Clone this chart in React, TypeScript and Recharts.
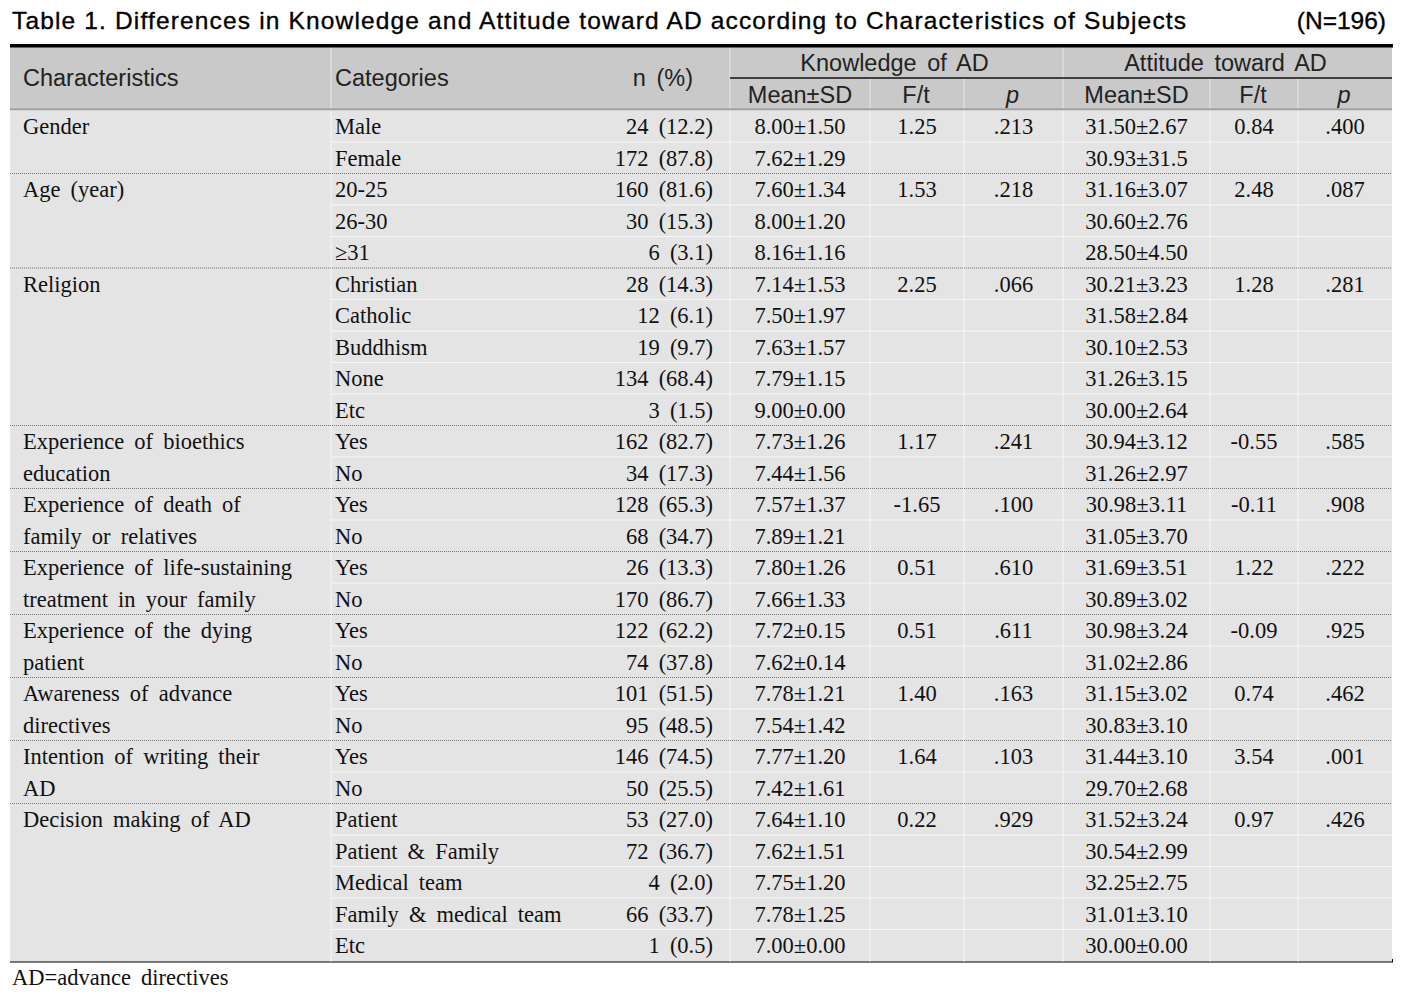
import React from "react";
import { BarChart, Bar, XAxis, YAxis, Customized } from "recharts";

// ---------- data ----------
const groupLabels: string[][] = [
  ["Gender"],
  ["Age (year)"],
  ["Religion"],
  ["Experience of bioethics", "education"],
  ["Experience of death of", "family or relatives"],
  ["Experience of life-sustaining", "treatment in your family"],
  ["Experience of the dying", "patient"],
  ["Awareness of advance", "directives"],
  ["Intention of writing their", "AD"],
  ["Decision making of AD"],
];
const groupSizes = [2, 3, 5, 2, 2, 2, 2, 2, 2, 5];
const categories = [
  "Male", "Female",
  "20-25", "26-30", "≥31",
  "Christian", "Catholic", "Buddhism", "None", "Etc",
  "Yes", "No", "Yes", "No", "Yes", "No", "Yes", "No", "Yes", "No", "Yes", "No",
  "Patient", "Patient & Family", "Medical team", "Family & medical team", "Etc",
];
const counts = [24, 172, 160, 30, 6, 28, 12, 19, 134, 3, 162, 34, 128, 68, 26, 170, 122, 74, 101, 95, 146, 50, 53, 72, 4, 66, 1];
const percents = ["12.2", "87.8", "81.6", "15.3", "3.1", "14.3", "6.1", "9.7", "68.4", "1.5", "82.7", "17.3", "65.3", "34.7", "13.3", "86.7", "62.2", "37.8", "51.5", "48.5", "74.5", "25.5", "27.0", "36.7", "2.0", "33.7", "0.5"];
const knowledgeMeanSD = ["8.00±1.50", "7.62±1.29", "7.60±1.34", "8.00±1.20", "8.16±1.16", "7.14±1.53", "7.50±1.97", "7.63±1.57", "7.79±1.15", "9.00±0.00", "7.73±1.26", "7.44±1.56", "7.57±1.37", "7.89±1.21", "7.80±1.26", "7.66±1.33", "7.72±0.15", "7.62±0.14", "7.78±1.21", "7.54±1.42", "7.77±1.20", "7.42±1.61", "7.64±1.10", "7.62±1.51", "7.75±1.20", "7.78±1.25", "7.00±0.00"];
const knowledgeF = ["1.25", "1.53", "2.25", "1.17", "-1.65", "0.51", "0.51", "1.40", "1.64", "0.22"];
const knowledgeP = [".213", ".218", ".066", ".241", ".100", ".610", ".611", ".163", ".103", ".929"];
const attitudeMeanSD = ["31.50±2.67", "30.93±31.5", "31.16±3.07", "30.60±2.76", "28.50±4.50", "30.21±3.23", "31.58±2.84", "30.10±2.53", "31.26±3.15", "30.00±2.64", "30.94±3.12", "31.26±2.97", "30.98±3.11", "31.05±3.70", "31.69±3.51", "30.89±3.02", "30.98±3.24", "31.02±2.86", "31.15±3.02", "30.83±3.10", "31.44±3.10", "29.70±2.68", "31.52±3.24", "30.54±2.99", "32.25±2.75", "31.01±3.10", "30.00±0.00"];
const attitudeF = ["0.84", "2.48", "1.28", "-0.55", "-0.11", "1.22", "-0.09", "0.74", "3.54", "0.97"];
const attitudeP = [".400", ".087", ".281", ".585", ".908", ".222", ".925", ".462", ".001", ".426"];

const titleText = "Table 1. Differences in Knowledge and Attitude toward AD according to Characteristics of Subjects";
const sampleText = "(N=196)";
const footnote = "AD=advance directives";

// ---------- build rows ----------
type Row = {
  key: string;
  full: number;
  label: string;
  category: string;
  n: string;
  kMean: string;
  kF: string;
  kP: string;
  aMean: string;
  aF: string;
  aP: string;
  groupStart: boolean;
};
const rows: Row[] = [];
{
  let idx = 0;
  groupSizes.forEach((size, g) => {
    for (let j = 0; j < size; j++) {
      rows.push({
        key: "r" + idx,
        full: 1,
        label: groupLabels[g][j] || "",
        category: categories[idx],
        n: `${counts[idx]} (${percents[idx]})`,
        kMean: knowledgeMeanSD[idx],
        kF: j === 0 ? knowledgeF[g] : "",
        kP: j === 0 ? knowledgeP[g] : "",
        aMean: attitudeMeanSD[idx],
        aF: j === 0 ? attitudeF[g] : "",
        aP: j === 0 ? attitudeP[g] : "",
        groupStart: j === 0,
      });
      idx++;
    }
  });
}

// ---------- layout ----------
const W = 1412;
const H = 997;
const EDGES = [10, 331, 730, 870, 964, 1063, 1210, 1298, 1392];
const SERIF = "'Liberation Serif', 'Times New Roman', serif";
const SANS = "'Liberation Sans', Arial, sans-serif";
const BODY_BG = "#e4e4e4";
const HEAD_BG = "#c9c9c9";
const mid = (a: number, b: number) => (a + b) / 2;

const RowShape = (props: any) => {
  const { x, y, width, height, payload, index } = props;
  const r: Row = payload;
  const cy = y + height / 2;
  const right = x + width;
  const t = {
    fontFamily: SERIF,
    fontSize: 22.5,
    fill: "#111",
    dominantBaseline: "central" as const,
    wordSpacing: 4.5,
  };
  return (
    <g>
      <rect x={x} y={y} width={width} height={height} fill={BODY_BG} />
      {EDGES.slice(1, -1).map((ex) => (
        <line key={ex} x1={ex} x2={ex} y1={y} y2={y + height} stroke="#f6f6f6" strokeWidth={1} />
      ))}
      {!r.groupStart && (
        <line x1={EDGES[1]} x2={right} y1={y} y2={y} stroke="#f6f6f6" strokeWidth={1} />
      )}
      {r.groupStart && index > 0 && (
        <line x1={x} x2={right} y1={y} y2={y} stroke="#777" strokeWidth={1} strokeDasharray="1 1" />
      )}
      <text {...t} x={23} y={cy}>{r.label}</text>
      <text {...t} x={335} y={cy}>{r.category}</text>
      <text {...t} x={713} y={cy} textAnchor="end">{r.n}</text>
      <text {...t} x={mid(EDGES[2], EDGES[3])} y={cy} textAnchor="middle">{r.kMean}</text>
      <text {...t} x={mid(EDGES[3], EDGES[4])} y={cy} textAnchor="middle">{r.kF}</text>
      <text {...t} x={mid(EDGES[4], EDGES[5])} y={cy} textAnchor="middle">{r.kP}</text>
      <text {...t} x={mid(EDGES[5], EDGES[6])} y={cy} textAnchor="middle">{r.aMean}</text>
      <text {...t} x={mid(EDGES[6], EDGES[7])} y={cy} textAnchor="middle">{r.aF}</text>
      <text {...t} x={mid(EDGES[7], EDGES[8])} y={cy} textAnchor="middle">{r.aP}</text>
    </g>
  );
};

const Frame = () => {
  const h = {
    fontFamily: SANS,
    fontSize: 23.5,
    fill: "#222",
    dominantBaseline: "central" as const,
    wordSpacing: 4,
  };
  return (
    <g>
      <text x={12} y={20} fontFamily={SANS} fontSize={24.5} fill="#000" stroke="#000" strokeWidth={0.35} dominantBaseline="central" textLength={1174} lengthAdjust="spacing">
        {titleText}
      </text>
      <text x={1386} y={20} fontFamily={SANS} fontSize={24.5} fill="#000" stroke="#000" strokeWidth={0.35} dominantBaseline="central" textAnchor="end">
        {sampleText}
      </text>
      {/* header background */}
      <rect x={EDGES[0]} y={47} width={EDGES[8] - EDGES[0]} height={63} fill={HEAD_BG} />
      <line x1={EDGES[1]} x2={EDGES[1]} y1={47} y2={110} stroke="#e8e8e8" />
      <line x1={EDGES[2]} x2={EDGES[2]} y1={47} y2={110} stroke="#e8e8e8" />
      <line x1={EDGES[5]} x2={EDGES[5]} y1={47} y2={78} stroke="#e8e8e8" />
      {EDGES.slice(3, -1).map((ex) => (
        <line key={ex} x1={ex} x2={ex} y1={78} y2={110} stroke="#e8e8e8" />
      ))}
      <line x1={EDGES[2]} x2={EDGES[8]} y1={78} y2={78} stroke="#111" strokeWidth={1.3} />
      <rect x={EDGES[0]} y={108.5} width={EDGES[8] - EDGES[0]} height={2} fill="#9a9a9a" />
      <rect x={EDGES[0]} y={44} width={EDGES[8] - EDGES[0] + 1} height={3.5} fill="#000" />
      <text {...h} x={23} y={78}>Characteristics</text>
      <text {...h} x={335} y={78}>Categories</text>
      <text {...h} x={693} y={78} textAnchor="end">n (%)</text>
      <text {...h} x={mid(EDGES[2], EDGES[5]) - 2} y={63} textAnchor="middle">Knowledge of AD</text>
      <text {...h} x={mid(EDGES[5], EDGES[8]) - 2} y={63} textAnchor="middle">Attitude toward AD</text>
      <text {...h} x={mid(EDGES[2], EDGES[3])} y={95} textAnchor="middle">Mean±SD</text>
      <text {...h} x={mid(EDGES[3], EDGES[4]) - 1} y={95} textAnchor="middle">F/t</text>
      <text {...h} x={mid(EDGES[4], EDGES[5]) - 1} y={95} textAnchor="middle" fontStyle="italic">p</text>
      <text {...h} x={mid(EDGES[5], EDGES[6])} y={95} textAnchor="middle">Mean±SD</text>
      <text {...h} x={mid(EDGES[6], EDGES[7]) - 1} y={95} textAnchor="middle">F/t</text>
      <text {...h} x={mid(EDGES[7], EDGES[8]) - 1} y={95} textAnchor="middle" fontStyle="italic">p</text>
      {/* bottom rule */}
      <rect x={EDGES[0]} y={959} width={EDGES[8] - EDGES[0] + 1} height={3.5} fill="#000" />
      <text x={12} y={977} fontFamily={SERIF} fontSize={22.5} fill="#111" dominantBaseline="central" wordSpacing={4.5}>
        {footnote}
      </text>
    </g>
  );
};

export default function App() {
  return (
    <div style={{ position: "absolute", left: 0, top: 0, width: W, height: H, background: "#fff" }}>
      <BarChart
        width={W}
        height={H}
        data={rows}
        layout="vertical"
        margin={{ top: 110.5, right: W - EDGES[8], bottom: H - 961, left: EDGES[0] }}
        barCategoryGap={0}
        barGap={0}
      >
        <XAxis type="number" domain={[0, 1]} hide />
        <YAxis type="category" dataKey="key" hide width={0} />
        <Bar dataKey="full" isAnimationActive={false} shape={<RowShape />} />
        <Customized component={<Frame />} />
      </BarChart>
    </div>
  );
}
